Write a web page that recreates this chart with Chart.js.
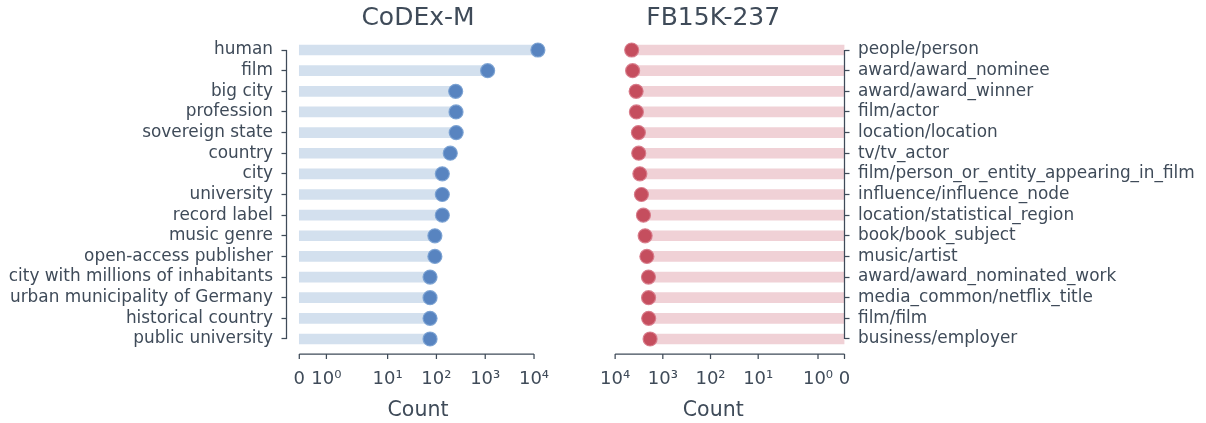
<!DOCTYPE html>
<html>
<head>
<meta charset="utf-8">
<script src="https://cdn.jsdelivr.net/npm/chart.js@4"></script>
<style>
  html, body { margin: 0; padding: 0; background: #fff; }
  #wrap { position: relative; width: 1206px; height: 423px; }
  canvas { position: absolute; top: 0; }
</style>
</head>
<body>
<div id="wrap">
  <canvas id="codex" width="566" height="423" style="left:0"></canvas>
  <canvas id="fb" width="640" height="423" style="left:566px"></canvas>
</div>
<script>
const codexLabels = ['human', 'film', 'big city', 'profession', 'sovereign state', 'country', 'city',
  'university', 'record label', 'music genre', 'open-access publisher',
  'city with millions of inhabitants', 'urban municipality of Germany', 'historical country',
  'public university'];
const codexCounts = [12000, 1120, 248, 252, 254, 192, 132, 132, 132, 93, 93, 74, 74, 74, 74];

const fbLabels = ['people/person', 'award/award_nominee', 'award/award_winner', 'film/actor',
  'location/location', 'tv/tv_actor', 'film/person_or_entity_appearing_in_film',
  'influence/influence_node', 'location/statistical_region', 'book/book_subject', 'music/artist',
  'award/award_nominated_work', 'media_common/netflix_title', 'film/film', 'business/employer'];
const fbCounts = [4500, 4300, 3630, 3580, 3250, 3200, 3030, 2810, 2550, 2350, 2160, 2000, 1990, 1980, 1850];

const countTicks = [0, 1, 10, 100, 1000, 10000];

const textColor = '#3f4b59';
const font = 'DejaVu Sans';

// symlog like matplotlib (linthresh 2, linscale 1, base 10)
const LIN = 2;
const ADJ = 1 / (1 - 1 / 10);
function symlog(v) {
  const a = Math.abs(v);
  if (a <= LIN) return v * ADJ;
  return Math.sign(v) * LIN * (ADJ + Math.log10(a / LIN));
}
function symexp(t) {
  const a = Math.abs(t);
  if (a <= LIN * ADJ) return t / ADJ;
  return Math.sign(t) * LIN * Math.pow(10, a / LIN - ADJ);
}

class SymlogScale extends Chart.LinearScale {
  static id = 'symlog';
  static defaults = {};

  buildTicks() {
    this.start = this.min;
    this.end = this.max;
    return countTicks.map(v => ({ value: v }));
  }

  configure() {
    super.configure();
    this._t0 = symlog(this.min);
    this._t1 = symlog(this.max);
  }

  getPixelForValue(value) {
    if (value === null || value === undefined || isNaN(value)) return NaN;
    return this.getPixelForDecimal((symlog(value) - this._t0) / (this._t1 - this._t0));
  }

  getValueForPixel(pixel) {
    return symexp(this._t0 + this.getDecimalForPixel(pixel) * (this._t1 - this._t0));
  }
}
Chart.register(SymlogScale);

const sup = ['\u2070', '\u00b9', '\u00b2', '\u00b3', '\u2074'];
function tickLabel(v) {
  if (v === 0) return '0';
  return '10' + sup[Math.round(Math.log10(v))];
}

// trimmed spines, drawn like seaborn's despine(trim=True)
const spines = {
  id: 'spines',
  afterDraw(chart, args, opts) {
    const { ctx, chartArea, scales: { x, y } } = chart;
    const yx = opts.side === 'right' ? chartArea.right : chartArea.left;
    const xy = chartArea.bottom + 4.7;
    ctx.save();
    ctx.strokeStyle = textColor;
    ctx.lineWidth = 1.25;
    ctx.beginPath();
    ctx.moveTo(yx, y.getPixelForTick(0));
    ctx.lineTo(yx, y.getPixelForTick(y.ticks.length - 1));
    ctx.moveTo(x.getPixelForValue(countTicks[0]), xy);
    ctx.lineTo(x.getPixelForValue(countTicks[countTicks.length - 1]), xy);
    countTicks.forEach(v => {
      const px = x.getPixelForValue(v);
      ctx.moveTo(px, xy);
      ctx.lineTo(px, xy + 5);
    });
    ctx.stroke();
    ctx.restore();
  }
};

function drawPanel(id, title, labels, counts, side, xmin, xmax, barColor, dotColor, dotEdge) {
  const right = side === 'right';
  return new Chart(document.getElementById(id), {
    type: 'bar',
    data: {
      labels: labels,
      datasets: [
        {
          type: 'line',
          data: counts,
          indexAxis: 'y',
          showLine: false,
          pointRadius: 7,
          pointBorderWidth: 1.2,
          pointBackgroundColor: dotColor,
          pointBorderColor: dotEdge,
          order: 0,
        },
        {
          type: 'bar',
          data: counts,
          indexAxis: 'y',
          backgroundColor: barColor,
          borderWidth: 0,
          barThickness: 10,
          order: 1,
        },
      ],
    },
    options: {
      indexAxis: 'y',
      responsive: false,
      animation: false,
      devicePixelRatio: 1,
      layout: { padding: right ? { left: 16, right: 0, top: 0, bottom: 0 } : { left: 0, right: 16.5, top: 0, bottom: 0 } },
      plugins: {
        legend: { display: false },
        tooltip: { enabled: false },
        title: {
          display: true,
          text: title,
          fullSize: false,
          color: textColor,
          font: { family: font, size: 25, weight: 'normal', lineHeight: 1.2 },
          padding: { top: 3, bottom: 6.7 },
        },
        spines: { side: side },
      },
      scales: {
        x: {
          type: 'symlog',
          min: xmin,
          max: xmax,
          reverse: right,
          grid: { display: false },
          border: { display: false },
          ticks: {
            autoSkip: false,
            maxRotation: 0,
            padding: 11.5,
            color: textColor,
            font: { family: font, size: 18 },
            callback: v => tickLabel(v),
          },
          title: {
            display: true,
            text: 'Count',
            color: textColor,
            font: { family: font, size: 20.5, lineHeight: 1.2 },
            padding: { top: 0, bottom: 0 },
          },
          afterFit: s => { s.height = 73.7; },
        },
        y: {
          type: 'category',
          position: side,
          offset: true,
          grid: {
            display: true,
            offset: false,
            drawOnChartArea: false,
            drawTicks: true,
            tickLength: 5,
            tickWidth: 1.25,
            tickColor: textColor,
          },
          border: { display: false },
          ticks: {
            autoSkip: false,
            padding: 8.5,
            color: textColor,
            font: { family: font, size: 16.9 },
          },
          afterFit: s => { s.width = right ? 361.5 : 286.5; },
        },
      },
    },
    plugins: [spines],
  });
}

drawPanel('codex', 'CoDEx-M', codexLabels, codexCounts, 'left', -0.472, 20750,
  '#d3e0ee', '#5884c0', 'rgba(120,160,210,0.9)');
drawPanel('fb', 'FB15K-237', fbLabels, fbCounts, 'right', 0, 49540,
  '#f0d1d6', '#c54e5e', 'rgba(215,120,135,0.9)');
</script>
</body>
</html>
